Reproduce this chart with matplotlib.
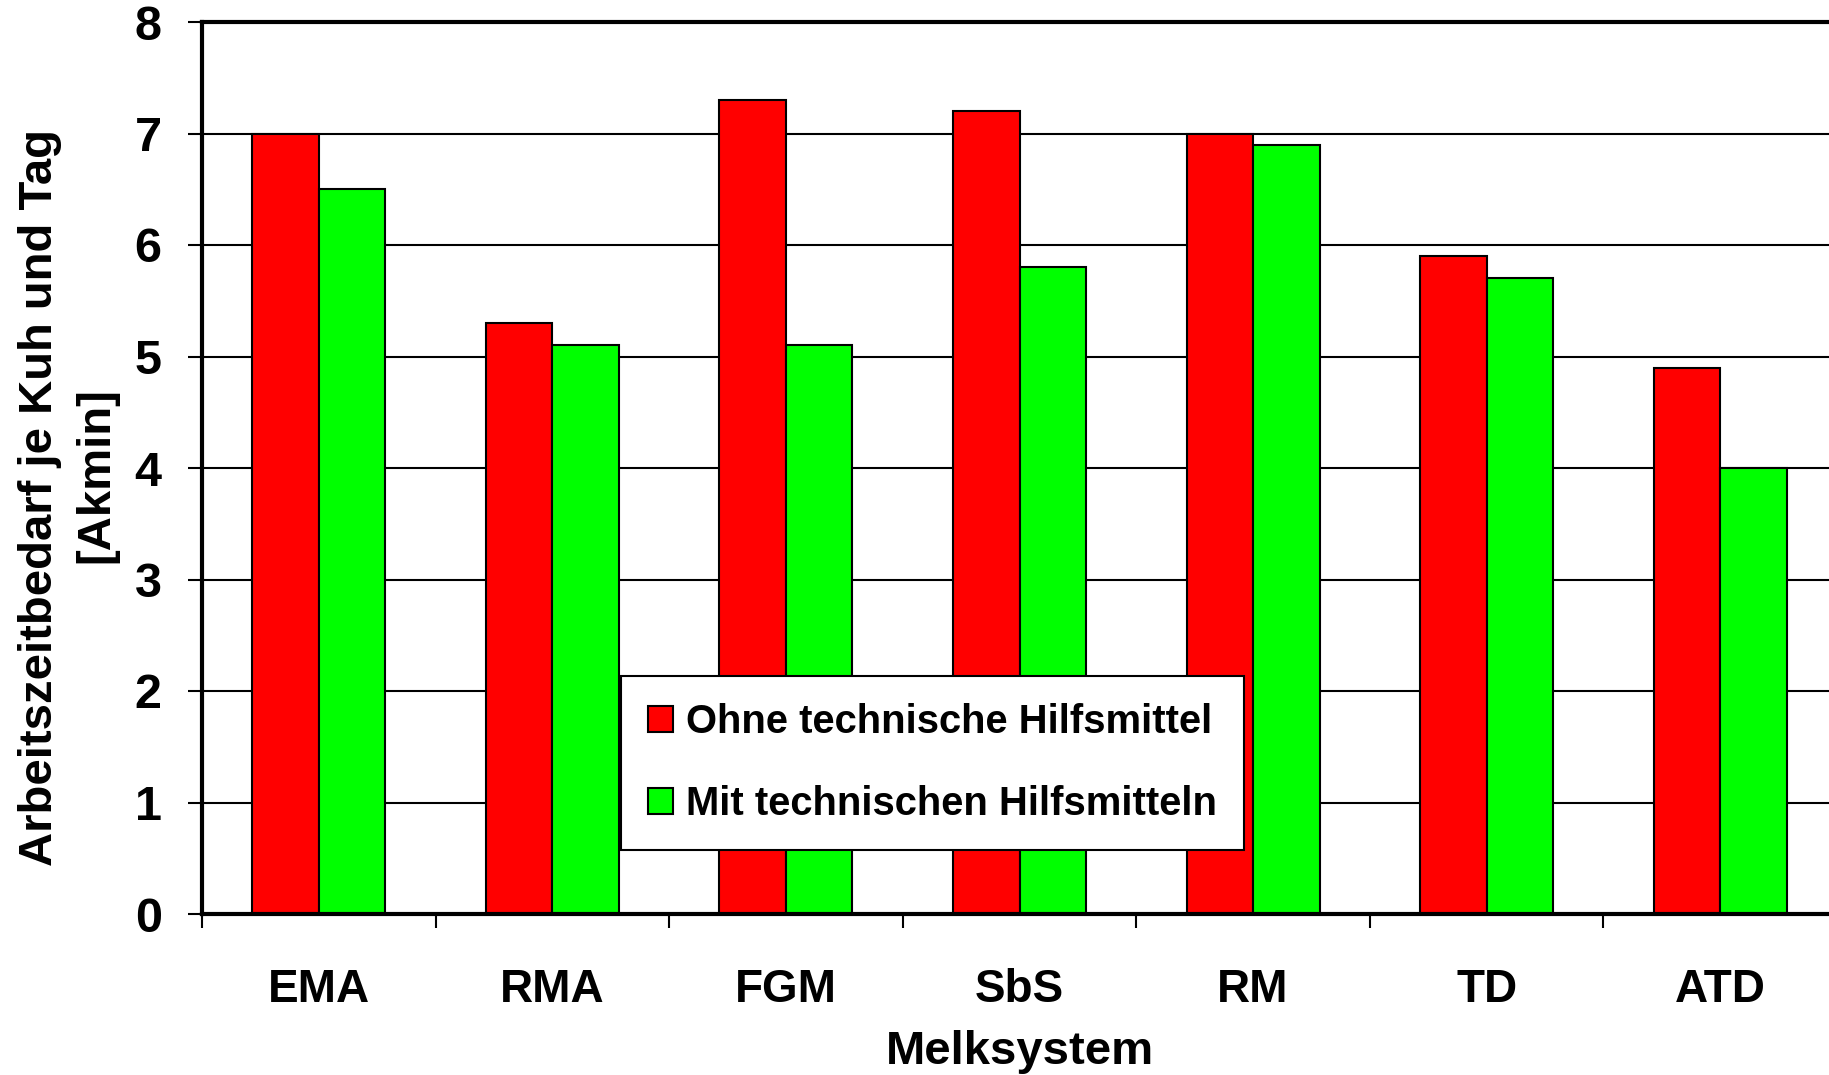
import matplotlib
matplotlib.use("Agg")
import matplotlib.pyplot as plt
import numpy as np
from matplotlib.patches import Patch

categories = ["EMA", "RMA", "FGM", "SbS", "RM", "TD", "ATD"]
ohne = [7.0, 5.3, 7.3, 7.2, 7.0, 5.9, 4.9]
mit = [6.5, 5.1, 5.1, 5.8, 6.9, 5.7, 4.0]
series_labels = ["Ohne technische Hilfsmittel", "Mit technischen Hilfsmitteln"]
yticks = [0, 1, 2, 3, 4, 5, 6, 7, 8]

plt.rcParams['font.family'] = ['Liberation Sans', 'DejaVu Sans']
plt.rcParams['font.weight'] = 'bold'

W, H = 1829, 1075
fig = plt.figure(figsize=(W / 100, H / 100), dpi=100)
ax = fig.add_axes([202 / W, (H - 914) / H, 1635 / W, (914 - 22) / H])

x = np.arange(len(categories))
bw = 0.285
ax.bar(x + 0.5, ohne, width=-bw, align='edge', color='#ff0000', edgecolor='black', linewidth=1.5, zorder=2)
ax.bar(x + 0.5, mit, width=bw, align='edge', color='#00ff00', edgecolor='black', linewidth=1.5, zorder=2)

ax.set_xlim(0, len(categories))
ax.set_ylim(0, 8)
ax.set_yticks(yticks)
ax.set_yticklabels([str(v) for v in yticks], fontsize=35, fontweight='bold')
ax.yaxis.grid(True, color='black', linewidth=1.5, zorder=0)
ax.set_axisbelow(True)

ax.set_xticks(np.arange(len(categories) + 1))
ax.set_xticklabels([])
ax.set_xticks(x + 0.5, minor=True)
ax.set_xticklabels(categories, minor=True, fontsize=33, fontweight='bold')
ax.tick_params(axis='x', which='minor', length=0, pad=39)
ax.tick_params(axis='x', which='major', direction='out', length=10, width=1.5)
ax.tick_params(axis='y', direction='out', length=10, width=1.5, pad=19)

for s in ['left', 'bottom', 'top']:
    ax.spines[s].set_linewidth(3)
ax.spines['right'].set_visible(False)

ax.set_xlabel("Melksystem", fontsize=34, fontweight='bold', labelpad=13)

fig.text(40 / W, (H - 498) / H, "Arbeitszeitbedarf je Kuh und Tag", rotation=90,
         ha='center', va='center', fontsize=34, fontweight='bold')
fig.text(96 / W, (H - 475) / H, "[Akmin]", rotation=90,
         ha='center', va='center', fontsize=34, fontweight='bold')

handles = [Patch(facecolor='#ff0000', edgecolor='black', linewidth=1.5),
           Patch(facecolor='#00ff00', edgecolor='black', linewidth=1.5)]
leg = ax.legend(handles, series_labels, loc='upper left',
                bbox_to_anchor=(621 / W, (H - 676) / H), bbox_transform=fig.transFigure,
                prop={'family': 'Liberation Sans', 'weight': 'bold', 'size': 28.8},
                handlelength=0.62, handleheight=0.62, handletextpad=0.32,
                labelspacing=1.1, borderpad=0.68, borderaxespad=0,
                fancybox=False, framealpha=1, edgecolor='black')
leg.get_frame().set_linewidth(1.5)
leg.set_zorder(5)

fig.savefig("out.png", dpi=100)
